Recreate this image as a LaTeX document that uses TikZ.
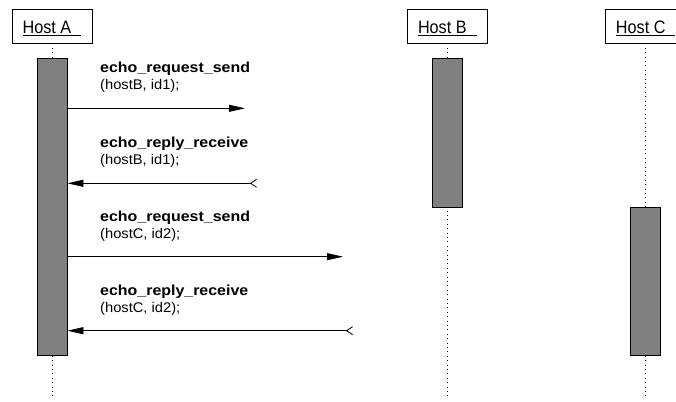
\documentclass[tikz,border=0pt]{standalone}
\usepackage{fontspec}
\setmainfont{Liberation Sans}
\newfontfamily\hostfont[FakeStretch=0.9]{Liberation Sans}
\newfontfamily\namefont[FakeStretch=1.1]{Liberation Sans}
\newfontfamily\argfont[FakeStretch=1.05]{Liberation Sans}
\usetikzlibrary{arrows.meta,positioning}

\begin{document}
\begin{tikzpicture}[x=1pt,y=-1pt,
  hostbox/.style={draw=black,line width=0.8pt,minimum width=80pt,minimum height=34pt,text height=20pt,text depth=4pt,inner sep=0pt,font=\hostfont\fontsize{18}{20}\selectfont},
  actbar/.style={draw=black,fill=black!50,line width=0.8pt,minimum width=30pt,inner sep=0pt},
  lifeline/.style={line width=0.9pt,dash pattern=on 0.9pt off 3.5pt},
  msg/.style={line width=0.8pt,-{Triangle[length=16pt,width=7pt]}},
  reply/.style={line width=0.8pt,{Straight Barb[reversed,length=6pt,width=8pt]}-{Triangle[length=16pt,width=7pt]}},
  msgname/.style={anchor=base west,inner sep=0pt,font=\namefont\bfseries\fontsize{14.5}{16}\selectfont},
  msgargs/.style={anchor=base west,inner sep=0pt,font=\argfont\fontsize{14}{16}\selectfont}]

\useasboundingbox (0,0) rectangle (676,401);

% draw hosts and lifelines
\foreach \h/\x in {A/52,B/447.3,C/645.7}
{
  \node[hostbox] (host\h) at (\x,26) {\underline{Host \h\hspace{10pt}}};
  \coordinate (end\h) at (\x,398);
  \draw[lifeline] (host\h.south) -- (end\h);
}

% draw activation bars
\node[actbar,minimum height=297pt] (barA) at (52,206.5) {};
\node[actbar,minimum height=148.7pt] (barB) at (447.3,132.7) {};
\node[actbar,minimum height=148.3pt] (barC) at (645.5,281.2) {};

% draw message labels
\foreach \m/\y/\name/\args in {1/73/request\_send/{(hostB, id1);},2/147/reply\_receive/{(hostB, id1);},3/221/request\_send/{(hostC, id2);},4/295/reply\_receive/{(hostC, id2);}}
{
  \node[msgname] (name\m) at (100,\y) {echo\_\name};
  \node[msgargs] (args\m) at (100,\y+17) {\args};
}

% draw messages
\coordinate (to1) at (245,108.3);
\coordinate (from2) at (257,183.3);
\coordinate (to3) at (343,256.7);
\coordinate (from4) at (353,330.7);
\draw[msg] (barA.east |- to1) -- (to1);
\draw[reply] (from2) -- (barA.east |- from2);
\draw[msg] (barA.east |- to3) -- (to3);
\draw[reply] (from4) -- (barA.east |- from4);

\end{tikzpicture}
\end{document}
